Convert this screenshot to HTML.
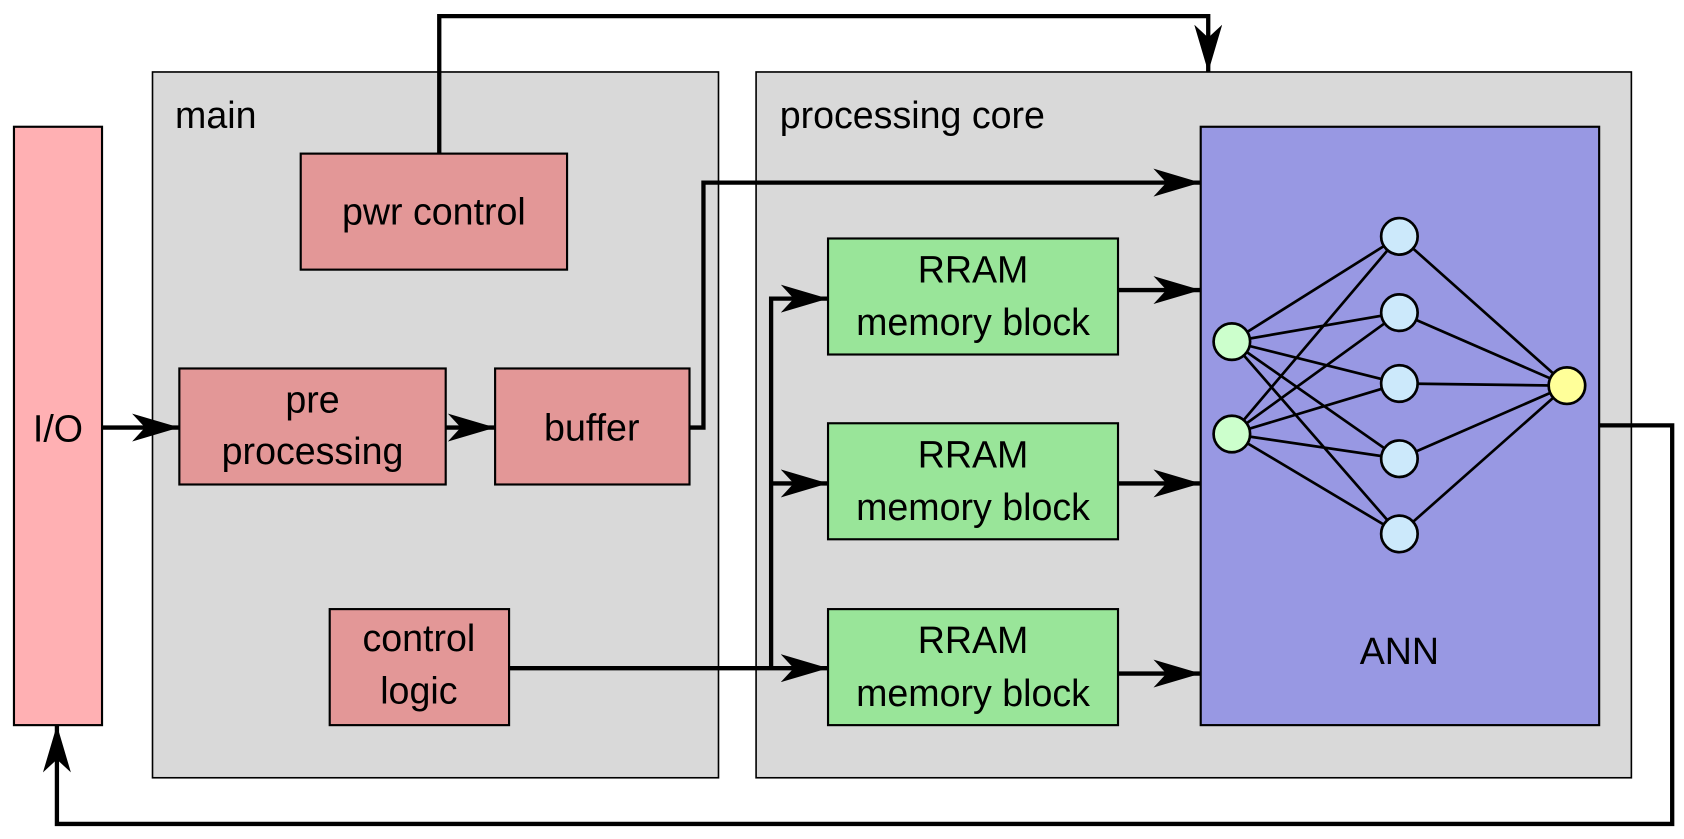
<!DOCTYPE html>
<html><head><style>html,body{margin:0;padding:0;background:#fff}svg{display:block}</style></head>
<body>
<svg width="1684" height="839" viewBox="0 0 1568 781" preserveAspectRatio="none" xmlns="http://www.w3.org/2000/svg" font-family="'Liberation Sans', sans-serif" font-size="35">
<defs>
<marker id="a" viewBox="0 0 44 26" refX="44" refY="13" markerWidth="44" markerHeight="26" markerUnits="userSpaceOnUse" orient="auto">
<path d="M0,0 L44,13 L0,26 L12,13 Z" fill="#000"/>
</marker>
</defs>
<g stroke="#000" stroke-width="2">
<rect x="13" y="118" width="82" height="557" fill="#ffb0b3"/>
<rect x="142" y="67" width="527" height="657" fill="#d9d9d9" stroke-width="1.5"/>
<rect x="704" y="67" width="815" height="657" fill="#d9d9d9" stroke-width="1.5"/>
<rect x="280" y="143" width="248" height="108" fill="#e39797"/>
<rect x="167" y="343" width="248" height="108" fill="#e39797"/>
<rect x="461" y="343" width="181" height="108" fill="#e39797"/>
<rect x="307" y="567" width="167" height="108" fill="#e39797"/>
<rect x="771" y="222" width="270" height="108" fill="#99e599"/>
<rect x="771" y="394" width="270" height="108" fill="#99e599"/>
<rect x="771" y="567" width="270" height="108" fill="#99e599"/>
<rect x="1118" y="118" width="371" height="557" fill="#9898e3"/>
</g>
<g stroke="#000" stroke-width="2.5">
<path d="M1147,318 L1303,220 M1147,318 L1303,291 M1147,318 L1303,357 M1147,318 L1303,427 M1147,318 L1303,497
M1147,404 L1303,220 M1147,404 L1303,291 M1147,404 L1303,357 M1147,404 L1303,427 M1147,404 L1303,497
M1303,220 L1459,359 M1303,291 L1459,359 M1303,357 L1459,359 M1303,427 L1459,359 M1303,497 L1459,359"/>
</g>
<g stroke="#000" stroke-width="2.5">
<circle cx="1147" cy="318" r="17" fill="#ccffcc"/>
<circle cx="1147" cy="404" r="17" fill="#ccffcc"/>
<circle cx="1303" cy="220" r="17" fill="#cce9fb"/>
<circle cx="1303" cy="291" r="17" fill="#cce9fb"/>
<circle cx="1303" cy="357" r="17" fill="#cce9fb"/>
<circle cx="1303" cy="427" r="17" fill="#cce9fb"/>
<circle cx="1303" cy="497" r="17" fill="#cce9fb"/>
<circle cx="1459" cy="359" r="17" fill="#ffff99"/>
</g>
<g stroke="#000" stroke-width="4" fill="none">
<path d="M409,143 V15 H1125 V67" marker-end="url(#a)"/>
<path d="M642,398 H655 V170 H1118" marker-end="url(#a)"/>
<path d="M95,398 H167" marker-end="url(#a)"/>
<path d="M415,398 H461" marker-end="url(#a)"/>
<path d="M474,622 H771" marker-end="url(#a)"/>
<path d="M718,622 V278 H771" marker-end="url(#a)"/>
<path d="M718,450 H771" marker-end="url(#a)"/>
<path d="M1041,270 H1118" marker-end="url(#a)"/>
<path d="M1041,450 H1118" marker-end="url(#a)"/>
<path d="M1041,627 H1118" marker-end="url(#a)"/>
<path d="M1489,396 H1557 V767 H53 V675" marker-end="url(#a)"/>
</g>
<g fill="#000" text-anchor="middle">
<text x="54" y="411">I/O</text>
<text x="163" y="119" text-anchor="start">main</text>
<text x="726" y="119" text-anchor="start">processing core</text>
<text x="404" y="209">pwr control</text>
<text x="291" y="384">pre</text>
<text x="291" y="432">processing</text>
<text x="551" y="410">buffer</text>
<text x="390" y="606">control</text>
<text x="390" y="655">logic</text>
<text x="906" y="263">RRAM</text>
<text x="906" y="312">memory block</text>
<text x="906" y="435">RRAM</text>
<text x="906" y="484">memory block</text>
<text x="906" y="608">RRAM</text>
<text x="906" y="657">memory block</text>
<text x="1303" y="618">ANN</text>
</g>
</svg>
</body></html>
